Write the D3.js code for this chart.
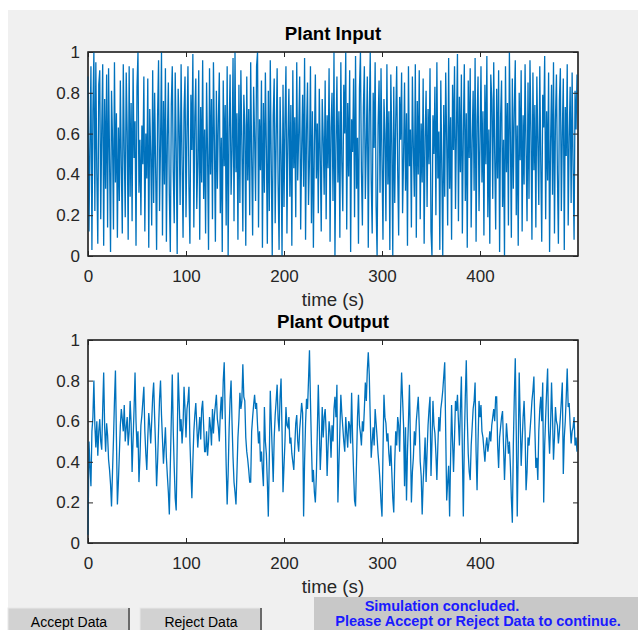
<html>

<head>
    <style>
        body {
            margin: 0;
            background: #ffffff;
        }

        .tick text {
            font-family: 'Liberation Sans', Arial, sans-serif;
            font-size: 17px;
            fill: #262626;
        }

        .tick line {
            stroke: #262626;
        }

        .frame {
            fill: #ffffff;
            stroke: #262626;
            stroke-width: 1.2;
        }

        .pathLine {
            fill: none;
            stroke: #0072bd;
            stroke-width: 1.3;
        }

        .title {
            font-family: 'Liberation Sans', Arial, sans-serif;
            font-size: 18.7px;
            font-weight: bold;
            fill: #000000;
        }

        .xlabel {
            font-family: 'Liberation Sans', Arial, sans-serif;
            font-size: 18.7px;
            fill: #262626;
        }

        .button text {
            font-family: 'Liberation Sans', Arial, sans-serif;
            font-size: 14px;
            fill: #000000;
        }

        .status {
            font-family: 'Liberation Sans', Arial, sans-serif;
            font-size: 14.5px;
            font-weight: bold;
            fill: #1a1aff;
        }
    </style>
</head>

<body>
    <svg id="container" height="630" width="638"></svg>
</body>

<script src="https://cdn.jsdelivr.net/npm/d3@7"></script>
<script>
    // Plant input, one sample per second (t = 0..499)
    let inputValues = [
        .88,.12,.55,.93,.03,.71,1.0,.22,.95,.40,.06,.84,.91,.18,.62,.94,.05,.77,.33,.89,
        .14,.92,.47,.02,.81,.58,.13,.95,.36,.70,.09,.63,.27,.86,.44,.11,.94,.52,.19,.90,
        .61,.08,.93,.29,.75,.17,.92,.48,.66,.05,.83,1.0,.31,.57,.20,.64,.45,.88,.12,.60,
        .38,.87,.04,.72,.50,.15,.91,.26,.80,.43,.03,.69,.96,.22,.55,1.0,.10,.76,.35,.92,
        .07,.58,.85,.30,.02,.74,.93,.41,.16,.90,.53,.01,.82,.64,.25,.94,.47,.09,.71,.88,
        .19,.60,.93,.34,.06,.79,.52,.99,.14,.68,.87,.23,.46,.91,.08,.73,.36,.96,.28,.62,
        .11,.85,.50,.03,.92,.40,.77,.18,.95,.56,.07,.81,.33,.66,.90,.21,.58,.02,.86,.44,
        .74,.15,.93,.00,.62,.89,.30,.52,.97,.17,1.0,.41,.70,.08,.84,.26,.91,.55,.12,.79,
        .64,.05,.88,.37,.72,.20,.95,.48,.10,.83,.59,.27,.93,1.0,.14,.67,.42,.86,.04,.75,
        .31,.90,.53,.06,.81,.22,.96,.45,.00,.69,.87,.16,.58,.92,.35,.03,.78,.50,.00,.84,
        .24,.66,.93,.11,.57,.82,.29,.74,.05,.91,.43,.68,.19,.95,.37,.60,.88,.13,.52,.79,
        .34,.97,.08,.62,.85,.25,.47,.93,.16,.71,.04,.55,.89,.38,.65,.21,.82,.49,.12,.77,
        .58,.30,.86,.18,.69,.43,.92,.07,.63,.80,.27,1.0,.00,.54,.88,.36,.71,.09,.95,.46,
        .22,.84,.60,1.0,.13,.75,.39,.91,.02,.67,.51,.87,.19,.98,.33,.58,.06,.82,1.0,.41,
        .15,.73,.93,.28,.56,.88,.04,.69,1.0,.37,.11,.80,.53,.95,.24,.00,.64,.86,.31,.92,
        .47,.08,.77,.60,.17,.94,.35,.71,.03,.89,.55,.00,.83,.26,.66,.93,.42,.10,.78,.57,
        .90,.21,.48,.85,.32,.70,.05,.93,.44,.62,.14,.88,.53,.29,.94,.09,.76,.40,.91,.18,
        .65,.36,.87,.06,.58,.81,.24,.72,.45,.92,.12,.00,.69,.50,.83,.20,.95,.38,.61,.03,
        .86,.43,.00,.74,.29,.90,.57,.15,.97,.33,.68,.08,.84,.52,.93,.23,.63,.99,.17,.78,
        .41,.89,.11,.60,.94,.27,.70,.04,.86,.48,.92,.14,.56,.81,.32,.97,.07,.66,.88,.22,
        .54,.93,.36,.71,.10,.84,.45,.98,.19,.62,.06,.89,.77,.28,.95,.50,.13,.82,.38,.91,
        .02,.68,.86,.24,.57,.00,.93,.41,.75,.15,1.0,.59,.09,.87,.33,.72,.96,.20,.64,.05,
        .80,.47,.91,.12,.69,.35,.94,.53,.17,.85,.28,.96,.61,.08,.90,.42,.74,.14,.88,.56,
        .25,.93,.46,.07,.79,.63,.98,.18,.71,.37,.90,.02,.55,.84,.30,.95,.11,.67,.89,.40,
        .06,.76,.92,.22,.60,.87,.03,.73,.49,.94,.15,.58,.83,.26,.90,.44,.08,.81,.62,.89
    ];

    // Plant output, one sample per second (t = 0..499)
    let outputValues = [
        .04,.50,.38,.28,.55,.62,.80,.58,.47,.60,.43,.55,.61,.50,.46,.66,.84,.57,.45,.59,
        .53,.41,.36,.29,.18,.35,.51,.70,.85,.52,.19,.30,.44,.58,.66,.61,.55,.68,.50,.57,
        .62,.48,.55,.70,.59,.35,.51,.66,.84,.60,.47,.55,.30,.42,.58,.63,.70,.77,.55,.44,
        .36,.52,.64,.58,.49,.60,.72,.79,.62,.47,.28,.40,.56,.71,.80,.63,.51,.39,.48,.57,
        .42,.33,.25,.14,.38,.61,.83,.55,.37,.22,.16,.48,.84,.70,.55,.61,.49,.58,.77,.66,
        .52,.66,.70,.77,.50,.35,.22,.40,.55,.63,.69,.58,.47,.55,.62,.51,.66,.70,.58,.45,
        .45,.55,.43,.50,.62,.57,.48,.66,.54,.63,.68,.73,.61,.57,.50,.64,.72,.61,.80,.89,
        .63,.38,.19,.34,.56,.71,.80,.59,.42,.30,.25,.19,.35,.52,.61,.74,.66,.70,.88,.72,
        .70,.52,.45,.41,.36,.30,.30,.55,.62,.68,.73,.66,.69,.58,.49,.55,.40,.45,.36,.28,
        .67,.50,.44,.30,.13,.42,.75,.60,.45,.30,.52,.63,.70,.78,.61,.55,.72,.81,.55,.25,
        .38,.50,.67,.58,.57,.62,.49,.52,.44,.40,.36,.48,.59,.63,.50,.45,.56,.62,.69,.64,
        .13,.40,.59,.71,.66,.80,.95,.70,.48,.30,.36,.25,.20,.33,.55,.78,.58,.36,.48,.67,
        .52,.62,.66,.55,.33,.48,.60,.55,.42,.58,.50,.66,.72,.62,.78,.20,.38,.55,.73,.64,
        .57,.50,.45,.62,.54,.47,.60,.58,.49,.74,.52,.35,.21,.18,.40,.62,.73,.58,.54,.48,
        .60,.55,.66,.79,.70,.85,.94,.83,.62,.42,.50,.57,.48,.66,.59,.52,.44,.38,.30,.20,
        .13,.45,.73,.62,.59,.50,.54,.44,.38,.48,.35,.22,.15,.40,.55,.48,.62,.58,.45,.66,
        .84,.71,.58,.28,.57,.21,.45,.60,.78,.50,.20,.35,.42,.55,.48,.60,.66,.72,.58,.40,
        .33,.14,.30,.40,.52,.30,.45,.58,.66,.72,.33,.50,.70,.58,.54,.44,.31,.48,.62,.55,
        .66,.70,.75,.82,.89,.55,.21,.30,.38,.13,.42,.68,.50,.35,.52,.70,.65,.73,.60,.48,
        .66,.82,.45,.13,.50,.72,.90,.62,.44,.35,.31,.48,.57,.66,.70,.79,.45,.26,.50,.70,
        .62,.68,.55,.52,.46,.40,.48,.52,.45,.49,.55,.50,.58,.62,.66,.60,.72,.72,.48,.37,
        .52,.57,.62,.65,.48,.31,.45,.59,.52,.44,.50,.38,.22,.10,.48,.72,.91,.55,.13,.45,
        .84,.62,.38,.50,.62,.70,.55,.26,.35,.52,.48,.55,.62,.70,.75,.82,.56,.37,.42,.31,
        .55,.66,.72,.60,.79,.20,.48,.62,.75,.86,.55,.44,.58,.79,.62,.41,.52,.67,.60,.58,
        .49,.55,.62,.70,.79,.34,.52,.60,.72,.86,.67,.69,.58,.49,.55,.57,.62,.48,.52,.45
    ];

    let xTicks = [0, 100, 200, 300, 400];
    let yTicks = [0, 0.2, 0.4, 0.6, 0.8, 1];
    let titles = ["Plant Input", "Plant Output"];
    let xLabel = "time (s)";
    let buttonLabels = ["Accept Data", "Reject Data"];
    let statusLines = ["Simulation concluded.", "Please Accept or Reject Data to continue."];

    let svg = d3.select("#container");

    // figure background (white margin on the left and top)
    svg.append("rect")
        .attr("x", 8).attr("y", 10)
        .attr("width", 630).attr("height", 620)
        .attr("fill", "#f0f0f0");

    let left = 88, right = 578;
    let panels = [
        { top: 52, bottom: 256, values: inputValues, title: titles[0] },
        { top: 340, bottom: 543, values: outputValues, title: titles[1] }
    ];

    let xScale = d3.scaleLinear()
        .domain([0, 500])
        .range([left, right]);

    panels.forEach(p => {
        let yScale = d3.scaleLinear()
            .domain([0, 1])
            .range([p.bottom, p.top]);

        let g = svg.append("g");

        g.append("rect")
            .attr("class", "frame")
            .attr("x", left).attr("y", p.top)
            .attr("width", right - left).attr("height", p.bottom - p.top);

        // data line
        let valueLine = d3.line()
            .x((d, i) => xScale(i))
            .y(d => yScale(d));

        g.append("path")
            .datum(p.values)
            .attr("class", "pathLine")
            .attr("d", valueLine);

        // axes, ticks pointing inward on all four sides
        g.append("g")
            .attr("transform", `translate(0, ${p.bottom})`)
            .call(d3.axisBottom(xScale).tickValues(xTicks).tickSize(-5).tickPadding(14))
            .call(a => a.select(".domain").remove());

        g.append("g")
            .attr("transform", `translate(0, ${p.top})`)
            .call(d3.axisTop(xScale).tickValues(xTicks).tickSize(-5).tickFormat(""))
            .call(a => a.select(".domain").remove());

        g.append("g")
            .attr("transform", `translate(${left}, 0)`)
            .call(d3.axisLeft(yScale).tickValues(yTicks).tickSize(-5).tickPadding(8)
                .tickFormat(d3.format("~g")))
            .call(a => a.select(".domain").remove());

        g.append("g")
            .attr("transform", `translate(${right}, 0)`)
            .call(d3.axisRight(yScale).tickValues(yTicks).tickSize(-5).tickFormat(""))
            .call(a => a.select(".domain").remove());

        g.selectAll(".tick text").attr("font-size", null).attr("font-family", null);

        // redraw border on top of the line
        g.append("rect")
            .attr("x", left).attr("y", p.top)
            .attr("width", right - left).attr("height", p.bottom - p.top)
            .attr("fill", "none")
            .attr("stroke", "#262626")
            .attr("stroke-width", 1.2);

        g.append("text")
            .attr("class", "title")
            .attr("x", (left + right) / 2)
            .attr("y", p.top - 12)
            .attr("text-anchor", "middle")
            .text(p.title);

        g.append("text")
            .attr("class", "xlabel")
            .attr("x", (left + right) / 2)
            .attr("y", p.bottom + 50)
            .attr("text-anchor", "middle")
            .text(xLabel);
    });

    // buttons
    let buttonX = [8, 140];
    buttonLabels.forEach((label, i) => {
        let b = svg.append("g").attr("class", "button");
        b.append("rect")
            .attr("x", buttonX[i]).attr("y", 608)
            .attr("width", 121).attr("height", 24)
            .attr("fill", "#d2d2d2")
            .attr("stroke", "#e8e8e8");
        b.append("line")
            .attr("x1", buttonX[i] + 121).attr("x2", buttonX[i] + 121)
            .attr("y1", 608).attr("y2", 630)
            .attr("stroke", "#6a6a6a").attr("stroke-width", 2);
        b.append("text")
            .attr("x", buttonX[i] + 61)
            .attr("y", 627)
            .attr("text-anchor", "middle")
            .text(label);
    });

    // status panel
    svg.append("rect")
        .attr("x", 314).attr("y", 597)
        .attr("width", 324).attr("height", 33)
        .attr("fill", "#c8c8c8");

    svg.append("text")
        .attr("class", "status")
        .attr("x", 442).attr("y", 611)
        .attr("text-anchor", "middle")
        .text(statusLines[0]);

    svg.append("text")
        .attr("class", "status")
        .attr("x", 478).attr("y", 626)
        .attr("text-anchor", "middle")
        .text(statusLines[1]);
</script>

</html>
